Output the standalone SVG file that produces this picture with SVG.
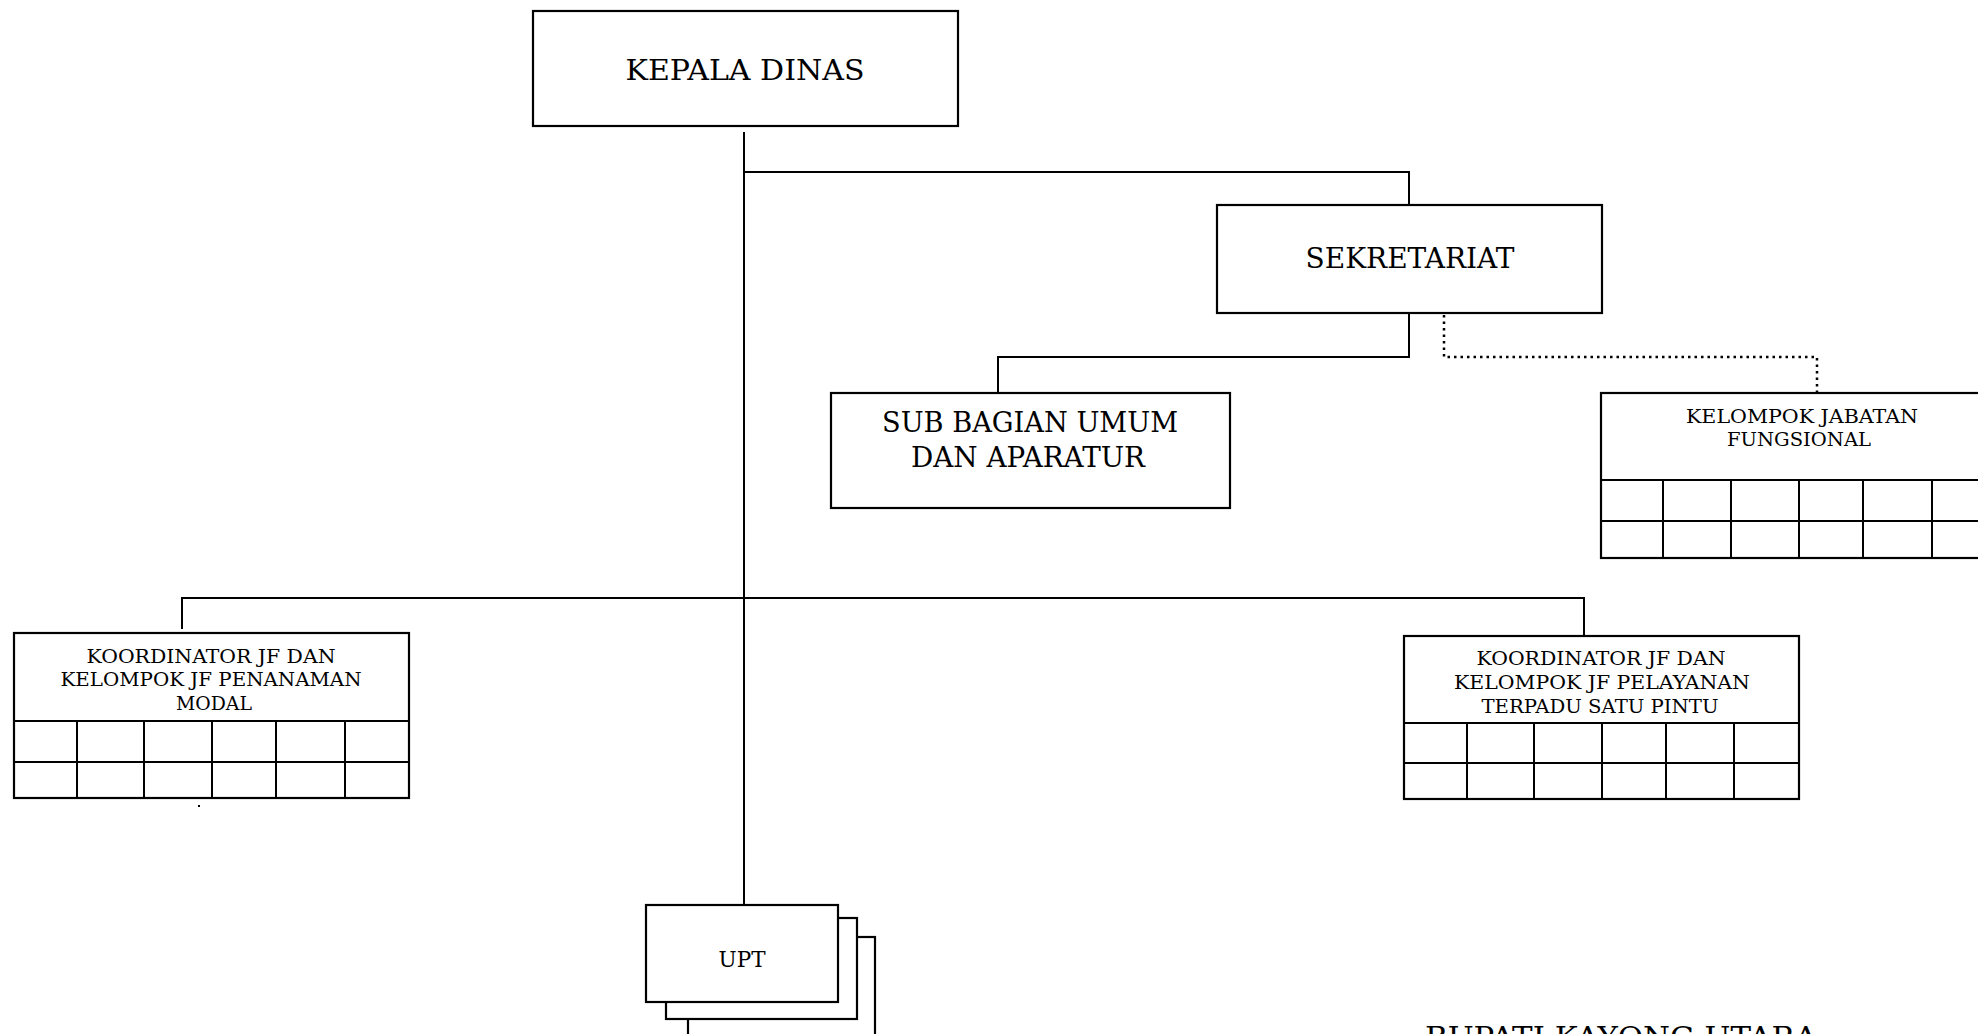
<svg xmlns="http://www.w3.org/2000/svg" width="1978" height="1034" viewBox="0 0 1978 1034">
<style>
.box{fill:#fff;stroke:#000;stroke-width:2.2}
.ln{fill:none;stroke:#000;stroke-width:2}
.dot{fill:none;stroke:#000;stroke-width:2.5;stroke-dasharray:2.5 4}
.big{font-family:"DejaVu Serif","Liberation Serif",serif;font-size:28px;text-anchor:middle;fill:#000}
.sm{font-family:"DejaVu Serif","Liberation Serif",serif;font-size:19px;text-anchor:middle;fill:#000}
.mid{font-family:"DejaVu Serif","Liberation Serif",serif;font-size:23px;text-anchor:middle;fill:#000}
</style>
<rect width="1978" height="1034" fill="#fff"/>
<g id="connectors">
<path class="ln" d="M744 132 V905"/>
<path class="ln" d="M744 172 H1409 V205"/>
<path class="ln" d="M1409 313 V357 H998 V393"/>
<path class="dot" d="M1444 315 V357 H1817 V393"/>
<path class="ln" d="M182 629 V598 H1584 V636"/>
<rect x="198" y="805" width="2" height="2" fill="#000"/>
</g>
<g id="kepala-dinas">
<rect class="box" x="533" y="11" width="425" height="115"/>
<text class="big" x="745" y="80" textLength="239" lengthAdjust="spacingAndGlyphs">KEPALA DINAS</text>
</g>
<g id="sekretariat">
<rect class="box" x="1217" y="205" width="385" height="108"/>
<text class="big" x="1410" y="268" textLength="209" lengthAdjust="spacingAndGlyphs">SEKRETARIAT</text>
</g>
<g id="sub-bagian">
<rect class="box" x="831" y="393" width="399" height="115"/>
<text class="big" x="1030" y="432" textLength="296" lengthAdjust="spacingAndGlyphs">SUB BAGIAN UMUM</text>
<text class="big" x="1028" y="467" textLength="234" lengthAdjust="spacingAndGlyphs">DAN APARATUR</text>
</g>
<g id="kelompok-jabatan">
<rect class="box" x="1601" y="393" width="420" height="165"/>
<path class="ln" d="M1601 480 H1990 M1601 521 H1990 M1663 480 V558 M1731 480 V558 M1799 480 V558 M1863 480 V558 M1932 480 V558"/>
<text class="sm" x="1802" y="423" textLength="232" lengthAdjust="spacingAndGlyphs">KELOMPOK JABATAN</text>
<text class="sm" x="1799" y="446" textLength="144" lengthAdjust="spacingAndGlyphs">FUNGSIONAL</text>
</g>
<g id="koordinator-penanaman">
<rect class="box" x="14" y="633" width="395" height="165"/>
<path class="ln" d="M14 721 H409 M14 762 H409 M77 721 V798 M144 721 V798 M212 721 V798 M276 721 V798 M345 721 V798"/>
<text class="sm" x="211" y="663" textLength="249" lengthAdjust="spacingAndGlyphs">KOORDINATOR JF DAN</text>
<text class="sm" x="211" y="686" textLength="301" lengthAdjust="spacingAndGlyphs">KELOMPOK JF PENANAMAN</text>
<text class="sm" x="214" y="710" textLength="76" lengthAdjust="spacingAndGlyphs">MODAL</text>
</g>
<g id="koordinator-pelayanan">
<rect class="box" x="1404" y="636" width="395" height="163"/>
<path class="ln" d="M1404 723 H1799 M1404 763 H1799 M1467 723 V799 M1534 723 V799 M1602 723 V799 M1666 723 V799 M1734 723 V799"/>
<text class="sm" x="1601" y="665" textLength="249" lengthAdjust="spacingAndGlyphs">KOORDINATOR JF DAN</text>
<text class="sm" x="1602" y="689" textLength="296" lengthAdjust="spacingAndGlyphs">KELOMPOK JF PELAYANAN</text>
<text class="sm" x="1600" y="713" textLength="237" lengthAdjust="spacingAndGlyphs">TERPADU SATU PINTU</text>
</g>
<g id="upt">
<rect class="box" x="688" y="937" width="187" height="120"/>
<rect class="box" x="666" y="918" width="191" height="101"/>
<rect class="box" x="646" y="905" width="192" height="97"/>
<text class="mid" x="742" y="967" textLength="47" lengthAdjust="spacingAndGlyphs">UPT</text>
</g>
<g id="bupati">
<text class="big" x="1621" y="1047" textLength="392" lengthAdjust="spacingAndGlyphs">BUPATI KAYONG UTARA</text>
</g>
</svg>
